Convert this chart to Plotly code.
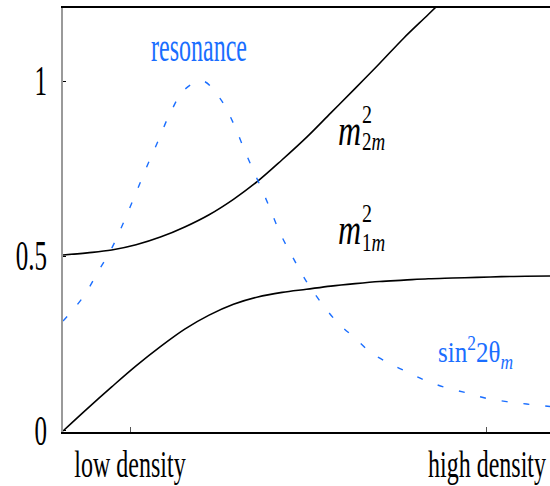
import json
import plotly.graph_objects as go

# ---- data ----
density = [0, 5, 10, 15, 20, 25, 30, 35, 40, 45, 50, 55, 60, 65, 70, 75, 80, 85, 90, 95, 100]
m1_sq = [0.0, 0.064, 0.126, 0.186, 0.241, 0.291, 0.331, 0.362, 0.383, 0.396, 0.405,
         0.414, 0.421, 0.427, 0.431, 0.435, 0.437, 0.439, 0.441, 0.442, 0.443]
m2_sq = [0.503, 0.509, 0.517, 0.532, 0.554, 0.583, 0.618, 0.662, 0.714, 0.775, 0.839,
         0.909, 0.979, 1.050, 1.123, 1.190, 1.258, 1.327, 1.397, 1.467, 1.537]

density_mix = [0, 4.2, 7.2, 10, 12.5, 14.8, 17.2, 19.6, 22, 25, 28.7, 32.2, 35, 37.4,
               39.8, 42.2, 44.6, 47.3, 50, 53.1, 56.5, 60, 63.4, 67.1, 71.2, 75, 79.1,
               83.2, 87, 91.1, 95.2, 100]
sin2_2theta = [0.314, 0.384, 0.455, 0.522, 0.598, 0.674, 0.755, 0.831, 0.908, 0.976,
               1.0, 0.951, 0.879, 0.798, 0.722, 0.646, 0.565, 0.493, 0.427, 0.365,
               0.308, 0.265, 0.222, 0.193, 0.165, 0.141, 0.122, 0.108, 0.093, 0.084,
               0.077, 0.070]

x_tickvals = [13.76, 87.06]
x_ticktext = ["low density", "high density"]
y_tickvals = [0, 0.5, 1]
y_ticktext = ["0", "0.5", "1"]

BLUE = "#1a6eff"
SERIF = "Liberation Serif, Times New Roman, serif"

fig = go.Figure()
fig.add_trace(go.Scatter(x=density, y=m1_sq, mode="lines", line=dict(color="black", width=1.6, shape="spline"),
                         showlegend=False, hoverinfo="skip"))
fig.add_trace(go.Scatter(x=density, y=m2_sq, mode="lines", line=dict(color="black", width=1.6, shape="spline"),
                         showlegend=False, hoverinfo="skip"))
fig.add_trace(go.Scatter(x=density_mix, y=sin2_2theta, mode="lines",
                         line=dict(color=BLUE, width=1.4, dash="6px,16px", shape="spline"),
                         showlegend=False, hoverinfo="skip"))

def px2x(px):
    return (px - 63) / 4.87

def py2y(py):
    return (431 - py) / 350

ann = []
def label(text, px, py, size, color="black", xanchor="center"):
    ann.append(dict(x=px2x(px), y=py2y(py), xref="x", yref="y", text=text, showarrow=False,
                    xanchor=xanchor, yanchor="middle",
                    font=dict(family=SERIF, size=size, color=color)))

label("resonance", 199, 47, 24, BLUE)
# m^2_{2m}
label("<i>m</i>", 349, 130, 32)
label("2", 360, 114, 20, xanchor="left")
label("2<i>m</i>", 360, 141, 19, xanchor="left")
# m^2_{1m}
label("<i>m</i>", 349, 229, 32)
label("2", 360, 213, 20, xanchor="left")
label("1<i>m</i>", 360, 242, 19, xanchor="left")
# sin^2 2theta_m
label("sin<sup>2</sup>2θ<sub><i>m</i></sub>", 436, 352, 25, BLUE, xanchor="left")

fig.update_layout(
    width=550, height=486,
    margin=dict(l=63, r=0, t=8, b=54),
    paper_bgcolor="white", plot_bgcolor="white",
    annotations=ann,
    xaxis=dict(range=[0, 100], showline=True, linecolor="black", linewidth=1.5, mirror=True,
               tickvals=x_tickvals, ticktext=x_ticktext, ticks="inside", ticklen=5,
               tickcolor="#555", tickwidth=1, showgrid=False, zeroline=False,
               ticklabelstandoff=10, ticklabeloverflow="allow",
               tickfont=dict(family=SERIF, size=24, color="black")),
    yaxis=dict(range=[-0.0029, 1.2086], showline=True, linecolor="#9a9a9a", linewidth=2,
               tickvals=y_tickvals, ticktext=y_ticktext, ticks="inside", ticklen=3,
               tickcolor="black", tickwidth=1, showgrid=False, zeroline=False,
               ticklabelstandoff=9,
               tickfont=dict(family=SERIF, size=25, color="black")),
)

# the reference lettering is drawn tall and narrow: stretch each text vertically about its centre
text_stretch = {
    "resonance": 1.8,
    "low density": 1.55, "high density": 1.55,
    "0": 1.65, "0.5": 1.65, "1": 1.65,
    "<i>m</i>": 1.4, "2": 1.3, "2<i>m</i>": 1.35, "1<i>m</i>": 1.35,
    "sin<sup>2</sup>2θ<sub><i>m</i></sub>": 1.2,
}
post = """
(function(){
  try {
    var S = %s;
    var gd = document.getElementById('{plot_id}');
    if (!gd) return;
    var ts = gd.querySelectorAll('text');
    for (var i = 0; i < ts.length; i++) {
      var t = ts[i];
      var k = t.getAttribute('data-unformatted');
      if (k === null || !(k in S)) continue;
      var b = t.getBBox();
      var cy = b.y + b.height / 2;
      var old = t.getAttribute('transform') || '';
      t.setAttribute('transform', old + ' translate(0,' + cy + ') scale(1,' + S[k] + ') translate(0,' + (-cy) + ')');
    }
  } catch (e) {}
})();
""" % json.dumps(text_stretch)

fig.write_html("out.html", post_script=post)
